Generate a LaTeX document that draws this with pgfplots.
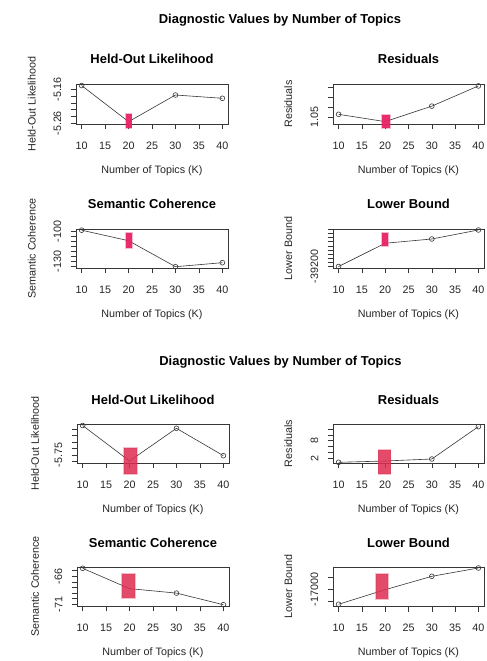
\documentclass[border=0pt]{standalone}
\usepackage{fontspec}
\setmainfont{Liberation Sans}
\usepackage{pgfplots}
\pgfplotsset{compat=1.18}
\definecolor{hlA}{RGB}{233,35,100}
\definecolor{hlB}{RGB}{222,45,80}
\definecolor{ln}{RGB}{55,55,55}
\pgfplotsset{
 rp/.style={
  scale only axis, anchor=south west, clip=false,
  xmin=8.8, xmax=41.2,
  xtick={10,15,20,25,30,35,40},
  xticklabels={10,15,20,25,30,35,40},
  axis line style={ln, line width=0.6pt},
  every tick/.style={ln, line width=0.6pt},
  tick align=outside, major tick length=5.5bp,
  tick pos=left,
  ticklabel style={font=\fontsize{10.8}{12}\selectfont, text=black!85, inner sep=0pt},
  xticklabel shift=12bp,
  yticklabel style={rotate=90, anchor=south},
  yticklabel shift=9bp,
  scaled y ticks=false,
 },
 dp/.style={ln, line width=0.6pt, mark=o, mark size=2.4bp, mark indices={1,3,4}, mark options={solid, line width=0.6pt}},
 hA/.style={fill=hlA, fill opacity=0.95, draw=hlA, draw opacity=0.3, line width=1.8bp},
 hB/.style={fill=hlB, fill opacity=0.85, draw=hlB, draw opacity=0.3, line width=1.6bp},
}
\newcommand{\ttl}[3]{\node[font=\fontsize{13}{15}\selectfont\bfseries] at (#1bp,#2bp) {#3};}
\newcommand{\xl}[2]{\node[font=\fontsize{10.8}{12}\selectfont, text=black!85] at (#1bp,#2bp) {Number of Topics (K)};}
\newcommand{\yl}[3]{\node[font=\fontsize{10.8}{12}\selectfont, text=black!85, rotate=90] at (#1bp,#2bp) {#3};}
\begin{document}
\begin{tikzpicture}
\useasboundingbox[fill=white] (0,0) rectangle (487bp,661bp);

% ---------------- Figure 1 ----------------
\ttl{280}{641}{Diagnostic Values by Number of Topics}

% Held-Out Likelihood
\begin{axis}[rp, at={(76bp,537bp)}, width=152bp, height=40bp,
  ymin=-5.2621, ymax=-5.1444,
  ytick={-5.26,-5.24,-5.22,-5.20,-5.18,-5.16}, yticklabels={-5.26,,,,,-5.16}]
\addplot[dp] coordinates {(10,-5.149) (20,-5.2553) (30,-5.1768) (40,-5.1865)};
\addplot[hA] coordinates {(19.36,-5.2335) (20.64,-5.2335) (20.64,-5.2747) (19.36,-5.2747)} -- cycle;
\end{axis}
\ttl{152}{602}{Held-Out Likelihood}
\xl{152}{490}
\yl{31.7}{557}{Held-Out Likelihood}

% Residuals
\begin{axis}[rp, at={(333bp,537bp)}, width=151bp, height=40bp,
  ymin=1.0432, ymax=1.08375,
  ytick={1.05,1.06,1.07,1.08}, yticklabels={1.05,,,}]
\addplot[dp] coordinates {(10,1.053) (20,1.0456) (30,1.0613) (40,1.0818)};
\addplot[hA] coordinates {(19.25,1.0523) (21.0,1.0523) (21.0,1.0389) (19.25,1.0389)} -- cycle;
\end{axis}
\ttl{408.5}{602}{Residuals}
\xl{408.5}{490}
\yl{288.3}{557}{Residuals}

% Semantic Coherence
\begin{axis}[rp, at={(76bp,393bp)}, width=152bp, height=39bp,
  ymin=-136.3, ymax=-97.3,
  ytick={-135,-130,-125,-120,-115,-110,-105,-100}, yticklabels={,-130,,,,,,-100}]
\addplot[dp] coordinates {(10,-98.5) (20,-109) (30,-135) (40,-131)};
\addplot[hA] coordinates {(19.46,-101.3) (20.73,-101.3) (20.73,-116.3) (19.46,-116.3)} -- cycle;
\end{axis}
\ttl{152}{457}{Semantic Coherence}
\xl{152}{346}
\yl{31.7}{412.5}{Semantic Coherence}

% Lower Bound
\begin{axis}[rp, at={(333bp,393bp)}, width=151bp, height=39bp,
  ymin=-39216, ymax=-38748,
  ytick={-39200,-39150,-39100,-39050,-39000,-38950,-38900,-38850,-38800,-38750},
  yticklabels={-39200,,,,,,,,,}]
\addplot[dp] coordinates {(10,-39198) (20,-38919) (30,-38868) (40,-38760)};
\addplot[hA] coordinates {(19.25,-38796) (20.67,-38796) (20.67,-38952) (19.25,-38952)} -- cycle;
\end{axis}
\ttl{408.5}{457}{Lower Bound}
\xl{408.5}{346}
\yl{288.3}{412.5}{Lower Bound}

% ---------------- Figure 2 ----------------
\ttl{280.5}{299.3}{Diagnostic Values by Number of Topics}

% Held-Out Likelihood
\begin{axis}[rp, at={(77bp,198bp)}, width=152bp, height=39bp,
  ymin=-5.7621, ymax=-5.7024,
  ytick={-5.76,-5.75,-5.74,-5.73,-5.72,-5.71}, yticklabels={,-5.75,,,,}]
\addplot[dp] coordinates {(10,-5.7047) (20,-5.759) (30,-5.709) (40,-5.7509)};
\addplot[hB] coordinates {(18.82,-5.7391) (21.53,-5.7391) (21.53,-5.7789) (18.82,-5.7789)} -- cycle;
\end{axis}
\ttl{153}{261}{Held-Out Likelihood}
\xl{153}{151}
\yl{35}{217.5}{Held-Out Likelihood}

% Residuals
\begin{axis}[rp, at={(333bp,198bp)}, width=151bp, height=39bp,
  ymin=0.396, ymax=13.7,
  ytick={2,4,6,8,10,12}, yticklabels={2,,,8,,}]
\addplot[dp] coordinates {(10,0.63) (20,1.08) (30,1.76) (40,12.8)};
\addplot[hB] coordinates {(18.52,4.83) (21.14,4.83) (21.14,-3.36) (18.52,-3.36)} -- cycle;
\end{axis}
\ttl{408.5}{261}{Residuals}
\xl{408.5}{151}
\yl{288.3}{217.5}{Residuals}

% Semantic Coherence
\begin{axis}[rp, at={(77bp,55bp)}, width=152bp, height=39bp,
  ymin=-71.3, ymax=-64.34,
  ytick={-71,-70,-69,-68,-67,-66,-65}, yticklabels={-71,,,,,-66,}]
\addplot[dp] coordinates {(10,-64.57) (20,-68.2) (30,-69.0) (40,-71.07)};
\addplot[hB] coordinates {(18.33,-65.59) (21.17,-65.59) (21.17,-69.93) (18.33,-69.93)} -- cycle;
\end{axis}
\ttl{153}{118}{Semantic Coherence}
\xl{153}{8}
\yl{35}{74.5}{Semantic Coherence}

% Lower Bound
\begin{axis}[rp, at={(333bp,55bp)}, width=151bp, height=39bp,
  ymin=-17690, ymax=-16059,
  ytick={-17500,-17000,-16500}, yticklabels={,-17000,}]
\addplot[dp] coordinates {(10,-17617) (20,-17008) (30,-16448) (40,-16100)};
\addplot[hB] coordinates {(18.03,-16352) (20.6,-16352) (20.6,-17418) (18.03,-17418)} -- cycle;
\end{axis}
\ttl{408.5}{118}{Lower Bound}
\xl{408.5}{8}
\yl{288.3}{74.5}{Lower Bound}

\end{tikzpicture}
\end{document}
